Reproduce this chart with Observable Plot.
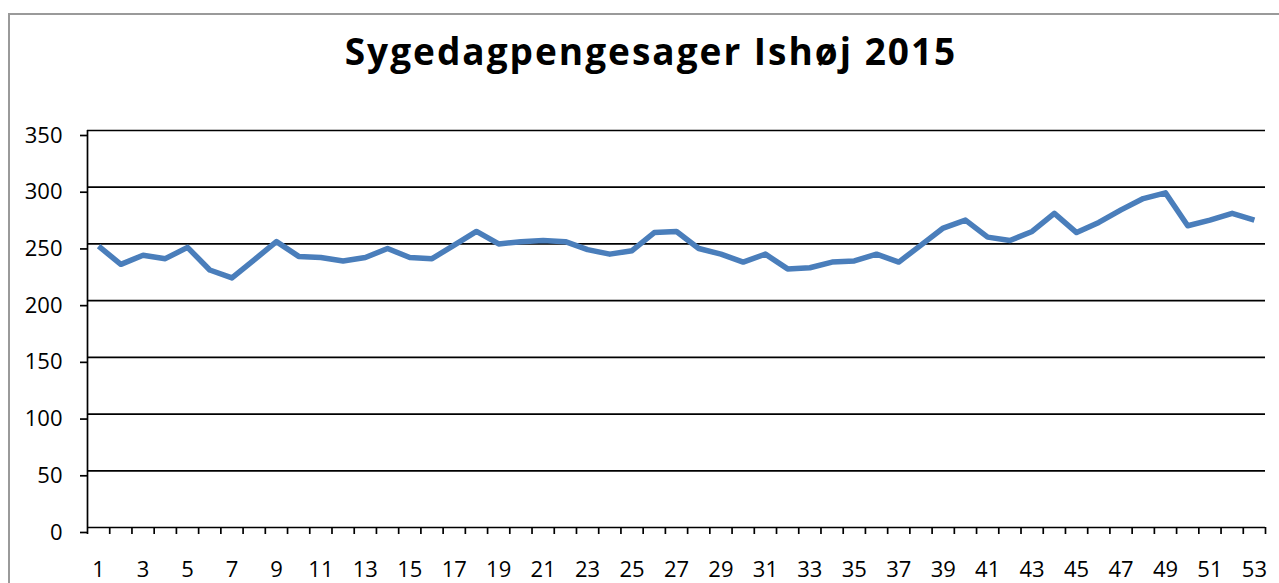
<!DOCTYPE html>
<html>
<head>
<meta charset="utf-8">
<script src="https://cdn.jsdelivr.net/npm/d3@7"></script>
<script src="https://cdn.jsdelivr.net/npm/@observablehq/plot@0.6"></script>
<style>
  html, body { margin: 0; padding: 0; background: #fff; overflow: hidden; }
  #wrap { position: relative; width: 1279px; height: 583px; overflow: hidden; font-family: "Open Sans", sans-serif; }
  #border { position: absolute; left: 8px; top: 13px; width: 1400px; height: 800px; border: 2px solid #9a9a9a; box-sizing: border-box; }
  #title { position: absolute; left: 0; width: 1302px; top: 32px; text-align: center; font-size: 37px; line-height: 37px; letter-spacing: 2px; font-weight: 700; color: #000; }
  #chart { position: absolute; left: 0; top: 0; }
</style>
</head>
<body>
<div id="wrap">
  <div id="border"></div>
  <div id="chart"></div>
  <div id="title">Sygedagpengesager Ishøj 2015</div>
</div>
<script>
const titleText = "Sygedagpengesager Ishøj 2015";
const weeks = [1,2,3,4,5,6,7,8,9,10,11,12,13,14,15,16,17,18,19,20,21,22,23,24,25,26,27,28,29,30,31,32,33,34,35,36,37,38,39,40,41,42,43,44,45,46,47,48,49,50,51,52,53];
const cases = [248,232,240,237,247,227,220,236,252,239,238,235,238,246,238,237,249,261,250,252,253,252,245,241,244,260,261,246,241,234,241,228,229,234,235,241,234,249,264,271,256,253,261,277,260,269,280,290,295,266,271,277,271];
const yTicks = [0,50,100,150,200,250,300,350];
const xLabelTicks = [1,3,5,7,9,11,13,15,17,19,21,23,25,27,29,31,33,35,37,39,41,43,45,47,49,51,53];

const data = weeks.map((w, i) => ({week: w, value: cases[i]}));
const boundaries = weeks.map(w => w - 0.5).concat([weeks[weeks.length - 1] + 0.5]);

const chart = Plot.plot({
  width: 1279,
  height: 583,
  marginLeft: 87,
  marginRight: 14,
  marginTop: 130,
  marginBottom: 56,
  style: {fontFamily: "'Open Sans', sans-serif", fontSize: "22px", color: "#000", background: "transparent", overflow: "visible"},
  x: {type: "linear", domain: [0.5, 53.5]},
  y: {domain: [0, 350]},
  marks: [
    Plot.ruleY(yTicks, {stroke: "#000", strokeWidth: 1.7}),
    Plot.ruleX([0.5], {stroke: "#000", strokeWidth: 1.7}),
    Plot.axisY({ticks: yTicks, tickSize: 7, tickPadding: 18, label: null, fontSize: 22, dy: 5, stroke: "#000", strokeWidth: 1.7, tickFormat: d => String(d)}),
    Plot.axisX({ticks: boundaries, tickSize: 7, tickFormat: () => "", label: null, stroke: "#000", strokeWidth: 1.7}),
    Plot.axisX({ticks: xLabelTicks, tickSize: 0, tickPadding: 34, label: null, fontSize: 22, tickFormat: d => String(d)}),
    Plot.line(data, {x: "week", y: "value", stroke: "#4a7ebb", strokeWidth: 5.5, strokeLinejoin: "round", strokeLinecap: "butt"})
  ]
});
document.getElementById("chart").appendChild(chart);
document.getElementById("title").textContent = titleText;
</script>
</body>
</html>
